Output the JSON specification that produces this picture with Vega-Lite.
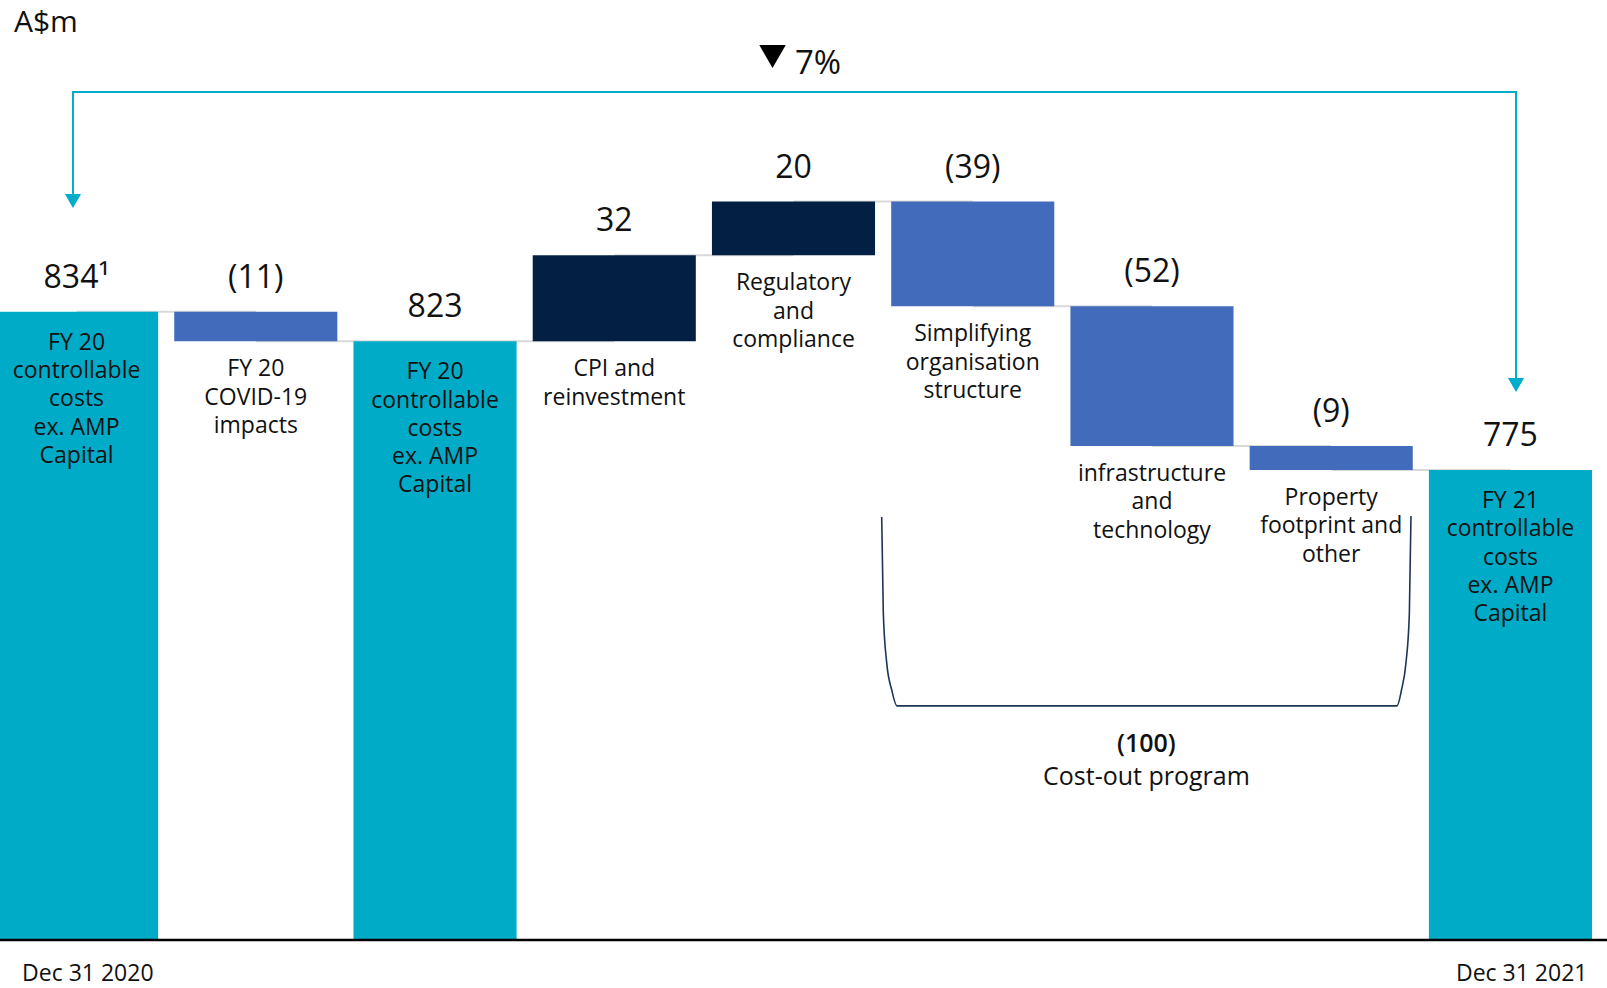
{
  "$schema": "https://vega.github.io/schema/vega-lite/v6.json",
  "width": 1607,
  "height": 988,
  "autosize": {"type": "none"},
  "padding": 0,
  "background": "white",
  "config": {
    "view": {"stroke": null},
    "text": {"font": "Open Sans", "color": "#111111"}
  },
  "datasets": {
    "steps": [
      {"step": "FY20 reported", "kind": "total", "from": null, "to": 834, "label": "834¹", "next": "COVID-19", "lines": ["FY 20", "controllable", "costs", "ex. AMP", "Capital"]},
      {"step": "COVID-19", "kind": "decrease", "from": 834, "to": 823, "label": "(11)", "next": "FY20 base", "lines": ["FY 20", "COVID-19", "impacts"]},
      {"step": "FY20 base", "kind": "total", "from": null, "to": 823, "label": "823", "next": "CPI", "lines": ["FY 20", "controllable", "costs", "ex. AMP", "Capital"]},
      {"step": "CPI", "kind": "increase", "from": 823, "to": 855, "label": "32", "next": "Regulatory", "lines": ["CPI and", "reinvestment"]},
      {"step": "Regulatory", "kind": "increase", "from": 855, "to": 875, "label": "20", "next": "Simplifying", "lines": ["Regulatory", "and", "compliance"]},
      {"step": "Simplifying", "kind": "decrease", "from": 875, "to": 836, "label": "(39)", "next": "Infrastructure", "lines": ["Simplifying", "organisation", "structure"]},
      {"step": "Infrastructure", "kind": "decrease", "from": 836, "to": 784, "label": "(52)", "next": "Property", "lines": ["infrastructure", "and", "technology"]},
      {"step": "Property", "kind": "decrease", "from": 784, "to": 775, "label": "(9)", "next": "FY21", "lines": ["Property", "footprint and", "other"]},
      {"step": "FY21", "kind": "total", "from": null, "to": 775, "label": "775", "next": null, "lines": ["FY 21", "controllable", "costs", "ex. AMP", "Capital"]}
    ],
    "paths": [
      {"path": "change", "order": 1, "slot": 0.435, "v": 877.5},
      {"path": "change", "order": 2, "slot": 0.435, "v": 915.8},
      {"path": "change", "order": 3, "slot": 8.486, "v": 915.8},
      {"path": "change", "order": 4, "slot": 8.486, "v": 808.9},
      {"path": "costout", "order": 1, "slot": 4.947, "v": 757.5},
      {"path": "costout", "order": 2, "slot": 4.956, "v": 721.8},
      {"path": "costout", "order": 3, "slot": 4.975, "v": 703.2},
      {"path": "costout", "order": 4, "slot": 5.003, "v": 693.1},
      {"path": "costout", "order": 5, "slot": 5.032, "v": 687.2},
      {"path": "costout", "order": 6, "slot": 7.822, "v": 687.2},
      {"path": "costout", "order": 7, "slot": 7.847, "v": 693.1},
      {"path": "costout", "order": 8, "slot": 7.872, "v": 703.2},
      {"path": "costout", "order": 9, "slot": 7.891, "v": 721.8},
      {"path": "costout", "order": 10, "slot": 7.9, "v": 757.9}
    ],
    "heads": [
      {"role": "arrow", "slot": 0.435, "v": 875.2},
      {"role": "arrow", "slot": 8.486, "v": 806.7},
      {"role": "change", "slot": 4.338, "v": 929.05}
    ],
    "notes": [
      {"role": "unit", "text": "A$m", "slot": 0.106, "v": 938.2},
      {"role": "change", "text": "7%", "slot": 4.463, "v": 922.5},
      {"role": "costTotal", "text": "(100)", "slot": 6.424, "v": 670.0},
      {"role": "costName", "text": "Cost-out program", "slot": 6.424, "v": 657.7},
      {"role": "date", "text": "Dec 31 2020", "slot": 0.151, "v": 584.7},
      {"role": "date", "text": "Dec 31 2021", "slot": 8.151, "v": 584.7}
    ]
  },
  "resolve": {"scale": {"x": "independent"}},
  "layer": [
    {
      "data": {"name": "steps"},
      "encoding": {
        "x": {
          "field": "step",
          "type": "nominal",
          "axis": null,
          "scale": {
            "type": "band",
            "domain": ["FY20 reported", "COVID-19", "FY20 base", "CPI", "Regulatory", "Simplifying", "Infrastructure", "Property", "FY21"],
            "range": [-5, 1592],
            "paddingInner": 0.09,
            "paddingOuter": 0
          }
        }
      },
      "layer": [
        {
          "transform": [{"filter": "datum.next != null"}],
          "mark": {"type": "rule", "color": "#D9D9D9", "strokeWidth": 2},
          "encoding": {
            "x2": {"field": "next"},
            "y": {"field": "to", "type": "quantitative", "axis": null, "scale": {"domain": [582.12, 950.09], "zero": false, "nice": false}}
          }
        },
        {
          "transform": [{"filter": "datum.kind == 'total'"}],
          "mark": {"type": "bar"},
          "encoding": {
            "y": {"field": "to", "type": "quantitative"},
            "y2": {"datum": 600},
            "color": {"field": "kind", "type": "nominal", "legend": null, "scale": {"domain": ["total", "increase", "decrease"], "range": ["#00ABC7", "#031F44", "#426CBB"]}}
          }
        },
        {
          "transform": [{"filter": "datum.kind != 'total'"}],
          "mark": {"type": "bar"},
          "encoding": {
            "y": {"field": "from", "type": "quantitative"},
            "y2": {"field": "to"},
            "color": {"field": "kind", "type": "nominal", "legend": null}
          }
        },
        {
          "transform": [{"filter": "datum.kind != 'decrease'"}],
          "mark": {"type": "text", "fontSize": 32, "fontWeight": 500, "baseline": "alphabetic", "dy": -24},
          "encoding": {
            "y": {"field": "to", "type": "quantitative"},
            "text": {"field": "label"}
          }
        },
        {
          "transform": [{"filter": "datum.kind == 'decrease'"}],
          "mark": {"type": "text", "fontSize": 32, "fontWeight": 500, "baseline": "alphabetic", "dy": -24},
          "encoding": {
            "y": {"field": "from", "type": "quantitative"},
            "text": {"field": "label"}
          }
        },
        {
          "transform": [{"filter": "datum.kind == 'total'"}],
          "mark": {"type": "text", "fontSize": 23, "baseline": "alphabetic", "lineHeight": 28.3, "dy": 38},
          "encoding": {
            "y": {"field": "to", "type": "quantitative"},
            "text": {"field": "lines"}
          }
        },
        {
          "transform": [{"filter": "datum.kind == 'decrease'"}],
          "mark": {"type": "text", "fontSize": 23, "baseline": "alphabetic", "lineHeight": 28.3, "dy": 35},
          "encoding": {
            "y": {"field": "to", "type": "quantitative"},
            "text": {"field": "lines"}
          }
        },
        {
          "transform": [{"filter": "datum.kind == 'increase'"}],
          "mark": {"type": "text", "fontSize": 23, "baseline": "alphabetic", "lineHeight": 28.3, "dy": 35},
          "encoding": {
            "y": {"field": "from", "type": "quantitative"},
            "text": {"field": "lines"}
          }
        }
      ]
    },
    {
      "encoding": {
        "x": {"field": "slot", "type": "quantitative", "axis": null, "scale": {"domain": [0.0279, 8.9936], "zero": false, "nice": false}},
        "y": {"field": "v", "type": "quantitative"}
      },
      "layer": [
        {
          "data": {"name": "paths"},
          "transform": [{"filter": "datum.path == 'change'"}],
          "mark": {"type": "line", "color": "#00AECB", "strokeWidth": 2},
          "encoding": {"order": {"field": "order"}}
        },
        {
          "data": {"name": "paths"},
          "transform": [{"filter": "datum.path == 'costout'"}],
          "mark": {"type": "line", "color": "#1D3557", "strokeWidth": 1.6, "interpolate": "monotone"},
          "encoding": {"order": {"field": "order"}}
        },
        {
          "data": {"name": "heads"},
          "transform": [{"filter": "datum.role == 'arrow'"}],
          "mark": {"type": "point", "shape": "triangle-down", "filled": true, "size": 260, "color": "#00AECB", "opacity": 1}
        },
        {
          "data": {"name": "heads"},
          "transform": [{"filter": "datum.role == 'change'"}],
          "mark": {"type": "point", "shape": "triangle-down", "filled": true, "size": 700, "color": "#000000", "opacity": 1}
        },
        {
          "data": {"name": "notes"},
          "transform": [{"filter": "datum.role == 'unit'"}],
          "mark": {"type": "text", "fontSize": 30, "align": "left", "baseline": "alphabetic"},
          "encoding": {"text": {"field": "text"}}
        },
        {
          "data": {"name": "notes"},
          "transform": [{"filter": "datum.role == 'change'"}],
          "mark": {"type": "text", "fontSize": 33, "align": "left", "baseline": "alphabetic"},
          "encoding": {"text": {"field": "text"}}
        },
        {
          "data": {"name": "notes"},
          "transform": [{"filter": "datum.role == 'costTotal'"}],
          "mark": {"type": "text", "fontSize": 25, "fontWeight": 600, "align": "center", "baseline": "alphabetic"},
          "encoding": {"text": {"field": "text"}}
        },
        {
          "data": {"name": "notes"},
          "transform": [{"filter": "datum.role == 'costName'"}],
          "mark": {"type": "text", "fontSize": 25, "align": "center", "baseline": "alphabetic"},
          "encoding": {"text": {"field": "text"}}
        },
        {
          "data": {"name": "notes"},
          "transform": [{"filter": "datum.role == 'date'"}],
          "mark": {"type": "text", "fontSize": 23, "align": "left", "baseline": "alphabetic"},
          "encoding": {"text": {"field": "text"}}
        }
      ]
    },
    {
      "data": {"values": [{}]},
      "mark": {"type": "rule", "color": "#000000", "strokeWidth": 2.6},
      "encoding": {"y": {"datum": 600, "type": "quantitative"}}
    }
  ]
}
